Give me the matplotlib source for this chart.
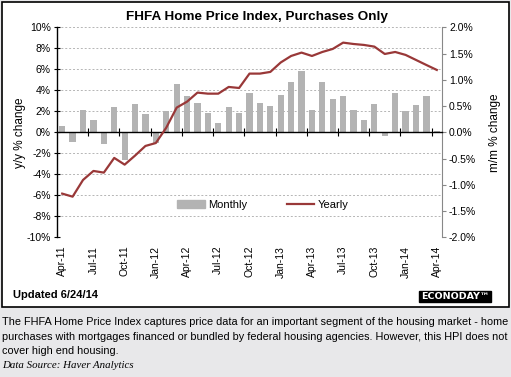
import matplotlib
matplotlib.use('Agg')
import matplotlib.pyplot as plt
from matplotlib.patches import Rectangle
import numpy as np

plt.rcParams['font.family'] = ['Liberation Sans', 'DejaVu Sans']

# Data
months = ['Apr-11', 'May-11', 'Jun-11', 'Jul-11', 'Aug-11', 'Sep-11', 'Oct-11', 'Nov-11', 'Dec-11',
          'Jan-12', 'Feb-12', 'Mar-12', 'Apr-12', 'May-12', 'Jun-12', 'Jul-12', 'Aug-12', 'Sep-12',
          'Oct-12', 'Nov-12', 'Dec-12', 'Jan-13', 'Feb-13', 'Mar-13', 'Apr-13', 'May-13', 'Jun-13',
          'Jul-13', 'Aug-13', 'Sep-13', 'Oct-13', 'Nov-13', 'Dec-13', 'Jan-14', 'Feb-14', 'Mar-14',
          'Apr-14']
monthly = [0.12, -0.18, 0.42, 0.23, -0.22, 0.48, -0.52, 0.54, 0.35,
           -0.20, 0.41, 0.92, 0.69, 0.56, 0.37, 0.18, 0.48, 0.37,
           0.75, 0.56, 0.50, 0.71, 0.96, 1.17, 0.42, 0.96, 0.63,
           0.69, 0.42, 0.23, 0.54, -0.07, 0.75, 0.40, 0.52, 0.69,
           0.03]
yearly = [-5.84, -6.13, -4.54, -3.68, -3.84, -2.44, -3.08, -2.22, -1.30,
          -1.02, 0.44, 2.35, 2.92, 3.78, 3.68, 3.68, 4.32, 4.22,
          5.59, 5.59, 5.75, 6.65, 7.27, 7.59, 7.27, 7.65, 7.94,
          8.54, 8.41, 8.32, 8.16, 7.46, 7.65, 7.37, 6.89, 6.41,
          5.94]
label_months = months[::3]

bar_color = '#b3b3b3'
line_color = '#993838'

fig = plt.figure(figsize=(5.11, 3.77), dpi=100)
fig.patch.set_facecolor('#e8e8ea')
W, H = 511.0, 377.0

# white chart box
fig.patches.append(Rectangle((1.5 / W, 1 - 307 / H), 507 / W, 305 / H, transform=fig.transFigure,
                             facecolor='white', edgecolor='black', linewidth=1.2, zorder=-10))

x = np.arange(len(months))
rect = [57 / W, 1 - 237.3 / H, 385 / W, 210 / H]
ax = fig.add_axes(rect)
ax.patch.set_visible(False)
ax.set_xlim(-0.5, len(months) - 0.5)
ax.set_ylim(-10, 10)
ax.set_yticks(np.arange(-10, 11, 2))
ax.set_yticklabels([f'{v}%' for v in range(-10, 11, 2)], fontsize=7.5)
ax.tick_params(axis='y', direction='inout', length=5, width=0.8, pad=2)
ax.yaxis.grid(True, color='#b5b5b5', linestyle=(0, (2, 2)), linewidth=0.7)
ax.set_xticks(x[::3])
ax.set_xticklabels(label_months, rotation=90, fontsize=7.5)
ax.tick_params(axis='x', length=0, pad=6)
for s in ['top', 'bottom', 'right']:
    ax.spines[s].set_visible(False)
ax.spines['left'].set_linewidth(1.0)
ax.set_ylabel('y/y % change', fontsize=8.5, labelpad=0)

# monthly bars on right axis
ax2 = ax.twinx()
ax2.patch.set_visible(False)
ax2.bar(x, monthly, width=0.6, color=bar_color, zorder=2)
ax2.set_ylim(-2, 2)
ax2.set_yticks(np.arange(-2, 2.01, 0.5))
ax2.set_yticklabels([f'{v:.1f}%' for v in np.arange(-2, 2.01, 0.5)], fontsize=7.5)
ax2.tick_params(axis='y', direction='out', length=3, color='#888888', pad=2)
for s in ['top', 'bottom', 'left']:
    ax2.spines[s].set_visible(False)
ax2.spines['right'].set_color('#888888')
ax2.set_ylabel('m/m % change', fontsize=8.5, labelpad=9)

# yearly line (left scale) with the zero axis and quarter ticks
ax3 = fig.add_axes(rect, label='yearly')
ax3.patch.set_visible(False)
ax3.set_xlim(-0.5, len(months) - 0.5)
ax3.set_ylim(-10, 10)
ax3.plot(x, yearly, color=line_color, linewidth=1.6, zorder=3)
ax3.set_yticks([])
for s in ['top', 'left', 'right']:
    ax3.spines[s].set_visible(False)
ax3.spines['bottom'].set_position(('data', 0))
ax3.spines['bottom'].set_linewidth(1.0)
ax3.set_xticks(np.arange(2.5, len(months) - 1, 3))
ax3.tick_params(axis='x', direction='inout', length=6, width=0.8, labelbottom=False)

bar_h = Rectangle((0, 0), 1, 1, color=bar_color)
line_h = plt.Line2D([0], [0], color=line_color, linewidth=1.6)
ax3.legend([bar_h, line_h], ['Monthly', 'Yearly'], loc='center', bbox_to_anchor=(0.535, 0.155),
           ncol=2, frameon=False, fontsize=8, handlelength=2.5, columnspacing=3.5, handletextpad=0.3)

fig.text(257 / W, 1 - 17 / H, 'FHFA Home Price Index, Purchases Only', ha='center', va='center',
         fontsize=9.7, fontweight='bold')
fig.text(13 / W, 1 - 295 / H, 'Updated 6/24/14', ha='left', va='center', fontsize=8, fontweight='bold')
fig.text(455 / W, 1 - 296.5 / H, 'ECONODAY\u2122', ha='center', va='center', fontsize=6.8,
         fontweight='bold', color='white', family='DejaVu Sans',
         bbox=dict(boxstyle='square,pad=0.15', facecolor='black', edgecolor='black'))

caption = ['The FHFA Home Price Index captures price data for an important segment of the housing market - home',
           'purchases with mortgages financed or bundled by federal housing agencies. However, this HPI does not',
           'cover high end housing.']
for i, line in enumerate(caption):
    fig.text(2 / W, 1 - (322 + 14.5 * i) / H, line, ha='left', va='center', fontsize=7.85)
fig.text(2 / W, 1 - 365.5 / H, 'Data Source: Haver Analytics', ha='left', va='center', fontsize=7.85,
         family='Liberation Serif', style='italic')

fig.savefig('out.png', dpi=100, facecolor=fig.get_facecolor())
